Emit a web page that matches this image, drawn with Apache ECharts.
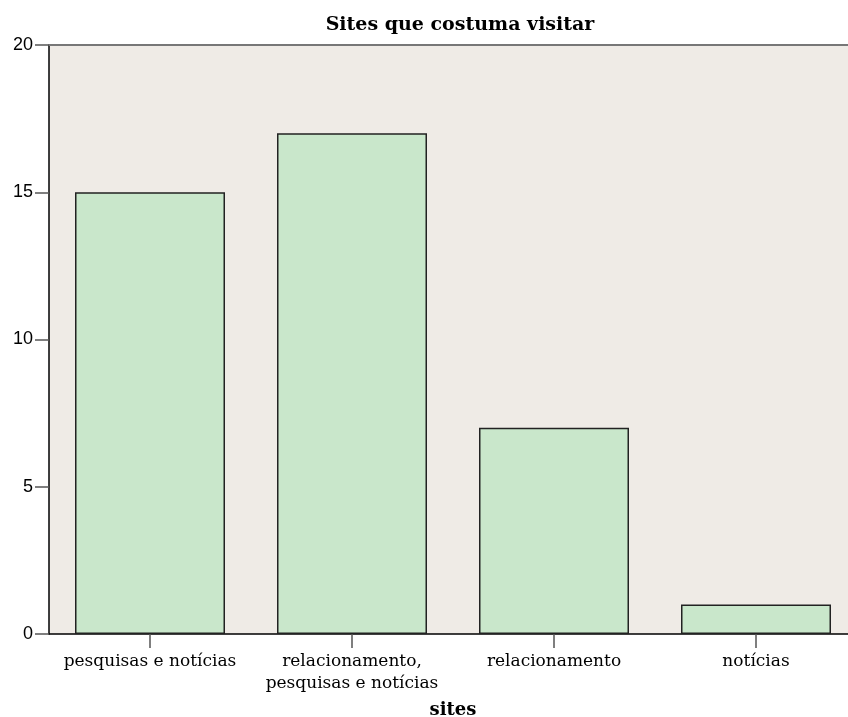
<!DOCTYPE html>
<html><head><meta charset="utf-8">
<script src="https://cdn.jsdelivr.net/npm/echarts@6/dist/echarts.min.js"></script>
<style>html,body{margin:0;padding:0;background:#fff;overflow:hidden}#c{width:848px;height:717px}</style>
</head><body><div id="c"></div>
<script>
const categories = ['pesquisas e notícias', 'relacionamento,\npesquisas e notícias', 'relacionamento', 'notícias'];
const counts = [15, 17, 7, 1];
const yTicks = [0, 5, 10, 15, 20];
const titleText = 'Sites que costuma visitar';
const xName = 'sites';

const chart = echarts.init(document.getElementById('c'));
chart.setOption({
  animation: false,
  backgroundColor: '#ffffff',
  title: {text: titleText, left: 455, top: 11, textAlign: 'center',
    textStyle: {fontFamily: 'DejaVu Serif', fontWeight: 'bold', fontSize: 19, color: '#000'}},
  grid: {left: 49, width: 808, top: 45, height: 589, outerBoundsMode: 'none', containLabel: false,
    show: true, backgroundColor: '#EFEBE6', borderWidth: 0},
  xAxis: {type: 'category', data: categories, name: xName, nameLocation: 'middle', nameGap: 67,
    nameTextStyle: {fontFamily: 'DejaVu Serif', fontWeight: 'bold', fontSize: 18, color: '#000'},
    axisLine: {lineStyle: {color: '#000', width: 1.5}},
    axisTick: {show: true, alignWithLabel: true, length: 14, lineStyle: {color: '#555', width: 1.5}},
    axisLabel: {fontFamily: 'DejaVu Serif', fontSize: 17, color: '#000', margin: 17, lineHeight: 22, interval: 0}},
  yAxis: {type: 'value', min: yTicks[0], max: yTicks[yTicks.length - 1], interval: 5,
    axisLine: {show: true, lineStyle: {color: '#000', width: 1.5}},
    axisTick: {show: true, length: 14, lineStyle: {color: '#555', width: 1.5}},
    axisLabel: {fontFamily: 'Liberation Sans', fontSize: 18, color: '#000', margin: 16},
    splitLine: {show: false}},
  graphic: [{type: 'line', shape: {x1: 49, y1: 45, x2: 848, y2: 45}, style: {stroke: '#777', lineWidth: 2}, z: 100}],
  series: [{type: 'bar', data: counts, barWidth: 150,
    itemStyle: {color: '#C9E7CB', borderColor: '#222', borderWidth: 1.5}}]
});
</script></body></html>
